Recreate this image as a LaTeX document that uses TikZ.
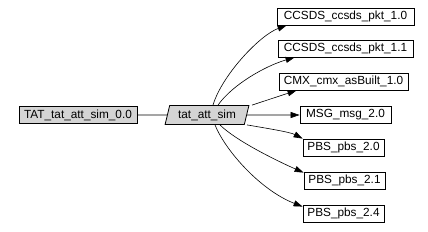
\documentclass[tikz,border=0pt]{standalone}
\usepackage{fontspec}
\setmainfont{Liberation Sans}
\usetikzlibrary{shapes.geometric,arrows.meta,calc}
\begin{document}
\begin{tikzpicture}[x=1pt,y=-1pt,
  every node/.style={font=\fontsize{11.8}{13}\selectfont, inner sep=0pt},
  pkg/.style={draw=black, line width=0.8pt, fill=white, minimum height=17pt, anchor=center},
  graypkg/.style={pkg, fill=black!17},
  simshape/.style={trapezium, trapezium left angle=72, trapezium right angle=108,
     trapezium stretches=true, draw=black, line width=0.8pt, fill=black!17,
     minimum width=84pt, minimum height=19pt},
  dep/.style={line width=0.6pt, -{Triangle[length=9pt,width=6pt]}},
  plain/.style={line width=0.6pt}]
\useasboundingbox (0,0) rectangle (428,231);
\node[graypkg, minimum width=118pt] (tat) at (78,115) {TAT\_tat\_att\_sim\_0.0};
\node[simshape] (sim) at (207,115) {tat\_att\_sim};
\node[pkg, minimum width=137pt] (b1) at (345.5,16.5) {CCSDS\_ccsds\_pkt\_1.0};
\node[pkg, minimum width=135pt] (b2) at (345.5,48.5) {CCSDS\_ccsds\_pkt\_1.1};
\node[pkg, minimum width=129pt] (b3) at (343.5,81.5) {CMX\_cmx\_asBuilt\_1.0};
\node[pkg, minimum width=91pt] (b4) at (345.5,115) {MSG\_msg\_2.0};
\node[pkg, minimum width=81pt] (b5) at (343.5,147.5) {PBS\_pbs\_2.0};
\node[pkg, minimum width=81pt] (b6) at (344.5,180.5) {PBS\_pbs\_2.1};
\node[pkg, minimum width=81pt] (b7) at (343.5,213.5) {PBS\_pbs\_2.4};

\draw[plain] (tat.east) -- (sim.west);
\draw[dep] ($(sim.north)+(6,0)$) .. controls (222,75) and (260,35) .. ($(b1.south west)+(10,0)$);
\draw[dep] ($(sim.north)+(11,0)$) .. controls (232,85) and (265,66) .. ($(b2.south west)+(17,0)$);
\draw[dep] ($(sim.north)+(45,0)$) -- ($(b3.south west)+(18,0)$);
\draw[dep] (sim.east) -- (b4.west);
\draw[dep] ($(sim.south)+(40,0)$) .. controls (265,128) and (290,132) .. (b5.north west);
\draw[dep] ($(sim.south)+(13,0)$) .. controls (235,140) and (275,160) .. ($(b6.north west)+(0,1)$);
\draw[dep] ($(sim.south)+(8,0)$) .. controls (225,150) and (260,190) .. ($(b7.north west)+(0,2)$);
\end{tikzpicture}
\end{document}
